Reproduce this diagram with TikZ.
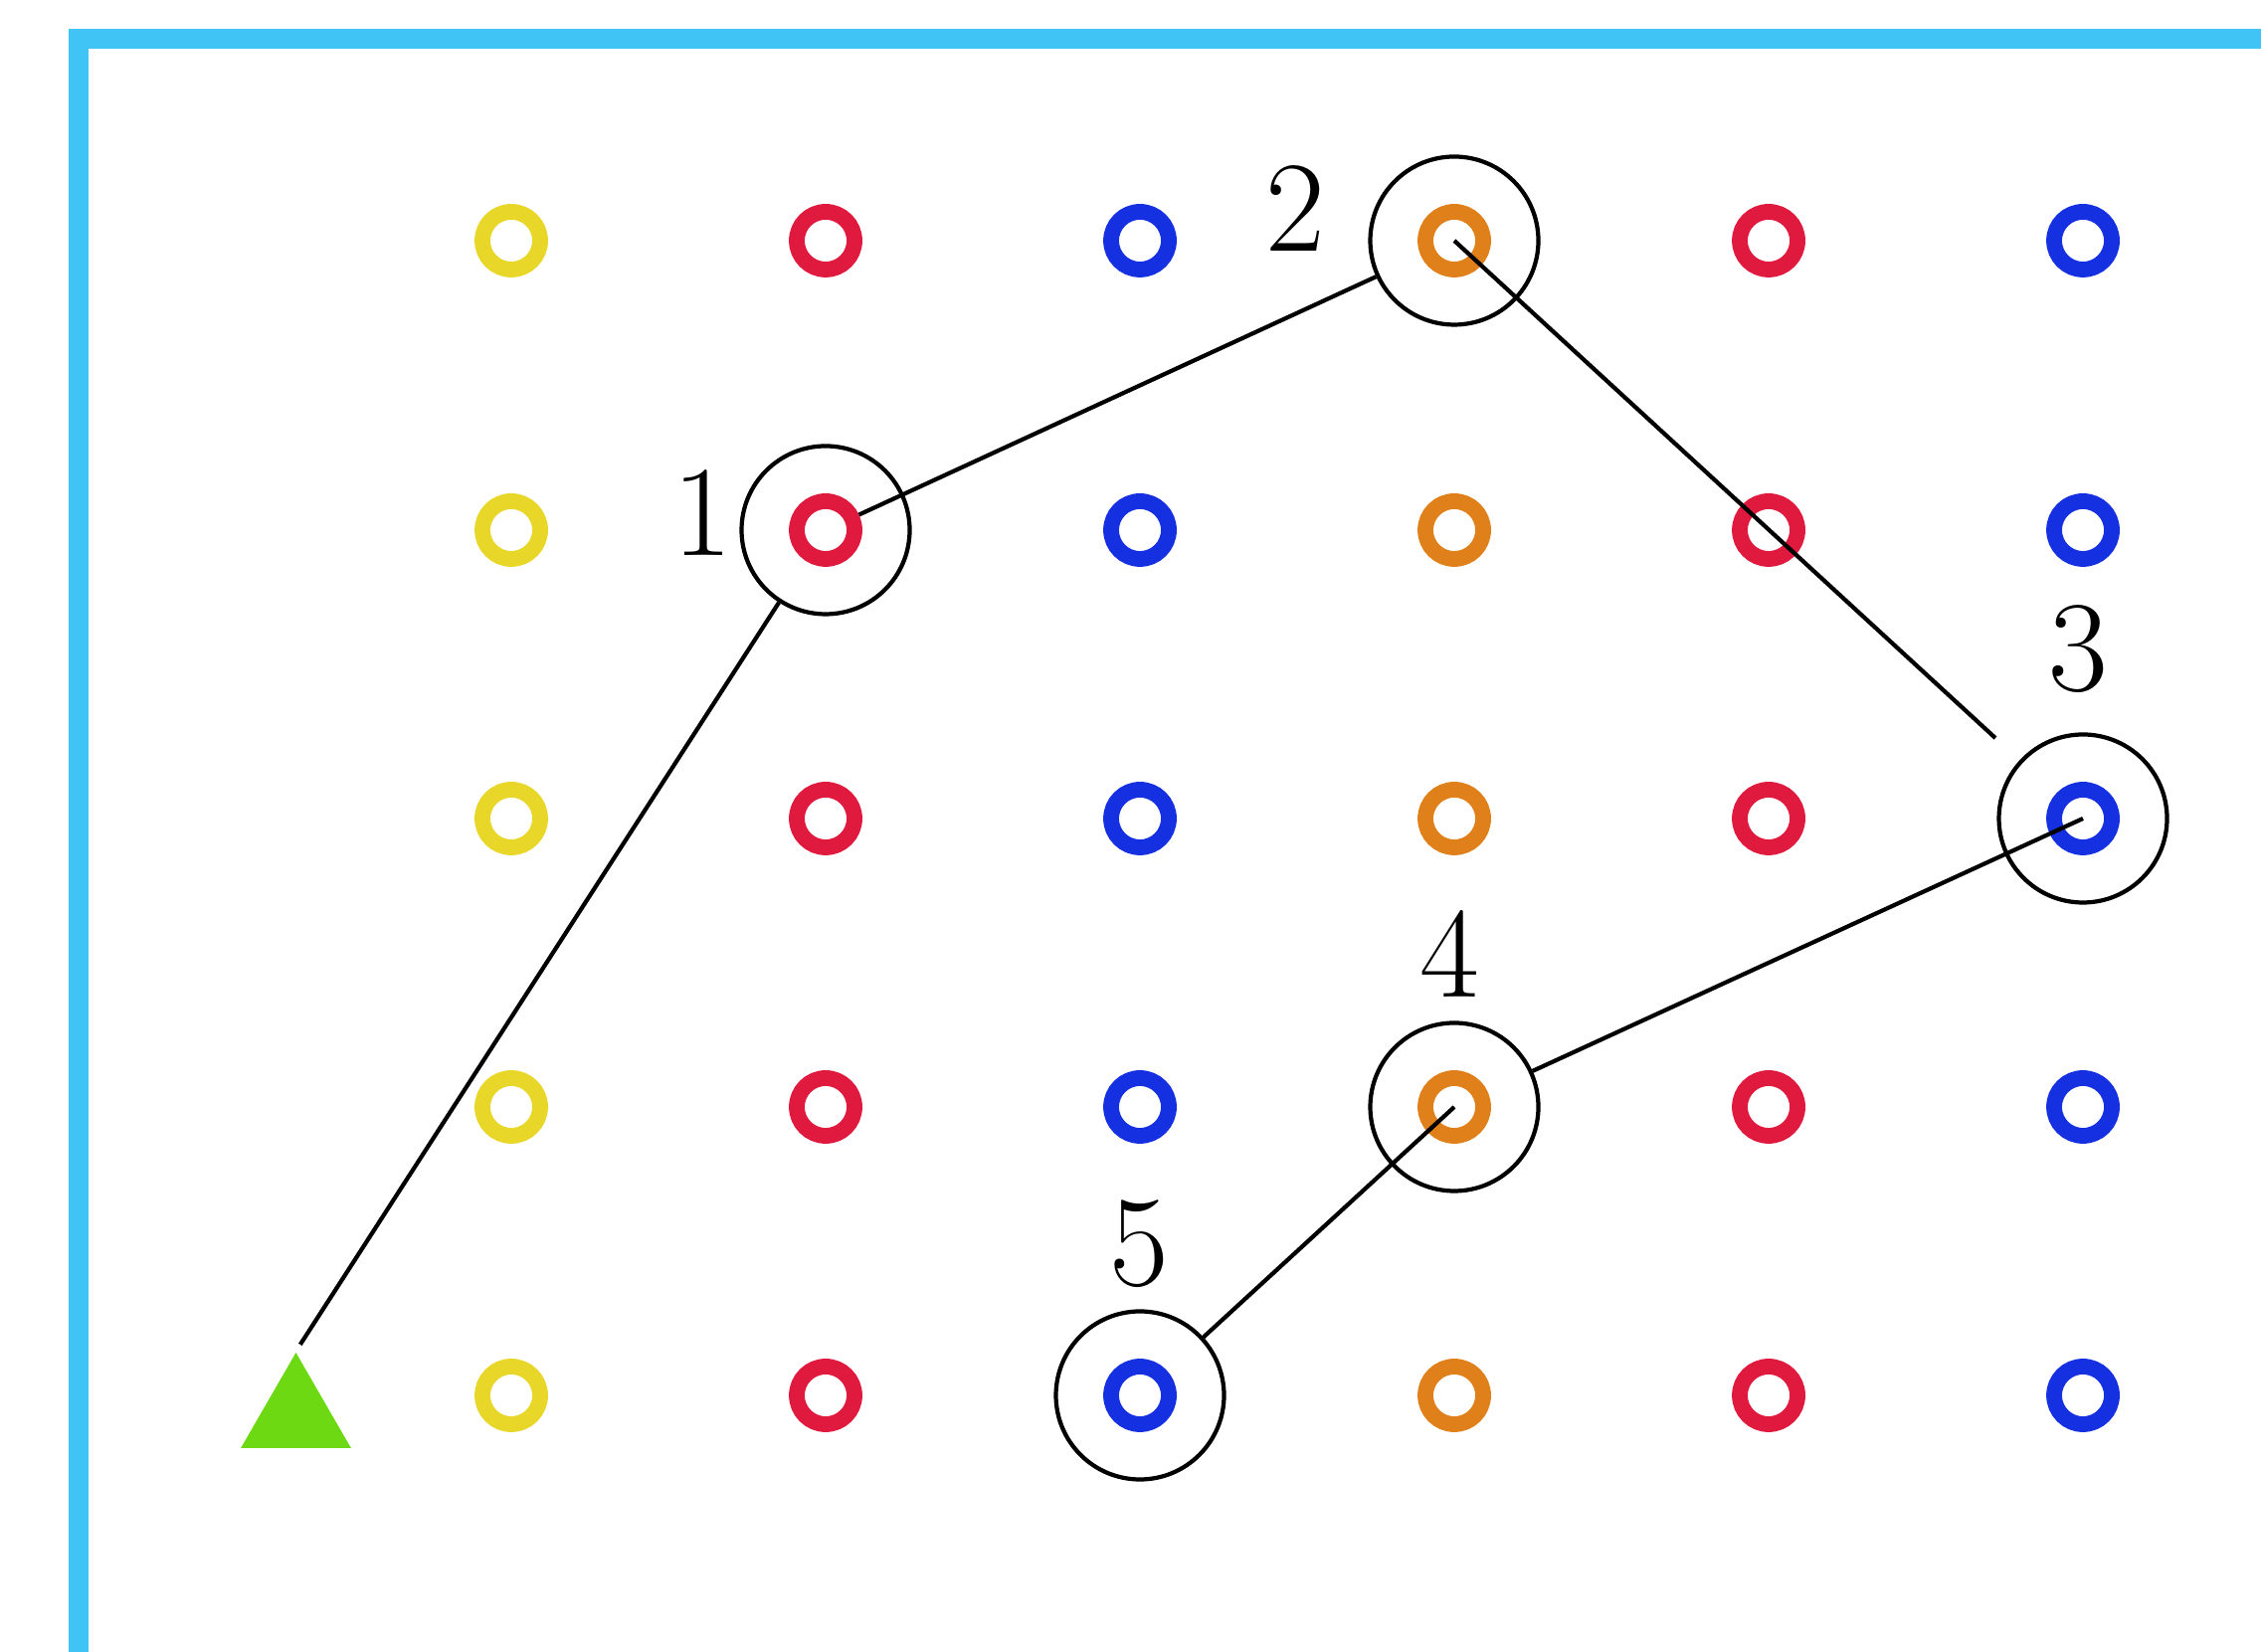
\documentclass[tikz,border=0pt]{standalone}
\usepackage{tikz}
\usetikzlibrary{shapes.geometric}

\definecolor{frameblue}{RGB}{64,196,246}
\definecolor{ringyellow}{RGB}{232,214,40}
\definecolor{ringred}{RGB}{224,26,62}
\definecolor{ringblue}{RGB}{20,48,224}
\definecolor{ringorange}{RGB}{224,128,26}
\definecolor{startgreen}{RGB}{108,217,18}

\begin{document}
\begin{tikzpicture}
\useasboundingbox (0, 0) rectangle (22.73, 16.61);
\fill [white] (0, 0) rectangle (22.73, 16.61);
\draw [frameblue, line width=5.8pt] (0.793, -1) -- (0.793, 16.222) -- (24, 16.222);

\tikzstyle{ring} = [draw, shape=circle, minimum size=5.8mm, inner sep=0pt, line width=4.5pt]
\tikzstyle{stop} = [draw, shape=circle, minimum size=16.9mm, inner sep=0pt, line width=1.2pt]
\tikzstyle{num} = [inner sep=0pt, font=\fontsize{37}{44}\selectfont]

\node [ring, ringyellow] (a1) at (5.14, 14.19) {};
\node [ring, ringred] (b1) at (8.30, 14.19) {};
\node [ring, ringblue] (c1) at (11.46, 14.19) {};
\node [ring, ringorange] (d1) at (14.62, 14.19) {};
\node [ring, ringred] (e1) at (17.78, 14.19) {};
\node [ring, ringblue] (f1) at (20.94, 14.19) {};

\node [ring, ringyellow] (a2) at (5.14, 11.28) {};
\node [ring, ringred] (b2) at (8.30, 11.28) {};
\node [ring, ringblue] (c2) at (11.46, 11.28) {};
\node [ring, ringorange] (d2) at (14.62, 11.28) {};
\node [ring, ringred] (e2) at (17.78, 11.28) {};
\node [ring, ringblue] (f2) at (20.94, 11.28) {};

\node [ring, ringyellow] (a3) at (5.14, 8.38) {};
\node [ring, ringred] (b3) at (8.30, 8.38) {};
\node [ring, ringblue] (c3) at (11.46, 8.38) {};
\node [ring, ringorange] (d3) at (14.62, 8.38) {};
\node [ring, ringred] (e3) at (17.78, 8.38) {};
\node [ring, ringblue] (f3) at (20.94, 8.38) {};

\node [ring, ringyellow] (a4) at (5.14, 5.48) {};
\node [ring, ringred] (b4) at (8.30, 5.48) {};
\node [ring, ringblue] (c4) at (11.46, 5.48) {};
\node [ring, ringorange] (d4) at (14.62, 5.48) {};
\node [ring, ringred] (e4) at (17.78, 5.48) {};
\node [ring, ringblue] (f4) at (20.94, 5.48) {};

\node [ring, ringyellow] (a5) at (5.14, 2.58) {};
\node [ring, ringred] (b5) at (8.30, 2.58) {};
\node [ring, ringblue] (c5) at (11.46, 2.58) {};
\node [ring, ringorange] (d5) at (14.62, 2.58) {};
\node [ring, ringred] (e5) at (17.78, 2.58) {};
\node [ring, ringblue] (f5) at (20.94, 2.58) {};

\node [regular polygon, regular polygon sides=3, minimum size=12.8mm, inner sep=0pt, fill=startgreen] (start) at (2.975, 2.37) {};

\node [stop] (s1) at (b2) {};
\node [stop] (s2) at (d1) {};
\node [stop] (s3) at (f3) {};
\node [stop] (s4) at (d4) {};
\node [stop] (s5) at (c5) {};

\node [num] (l1) at (7.06, 11.45) {1};
\node [num] (l2) at (13.02, 14.51) {2};
\node [num] (l3) at (20.89, 10.08) {3};
\node [num] (l4) at (14.57, 7.02) {4};
\node [num] (l5) at (11.45, 4.10) {5};

\draw [-, line width=1.2pt, shorten <=0.8mm] (start.corner 1) -- (s1);
\draw [-, line width=1.2pt] (b2) -- (s2);
\draw [-, line width=1.2pt, shorten >=3.3mm] (d1.center) -- (s3);
\draw [-, line width=1.2pt] (f3.center) -- (s4);
\draw [-, line width=1.2pt] (d4.center) -- (s5);

\end{tikzpicture}
\end{document}
